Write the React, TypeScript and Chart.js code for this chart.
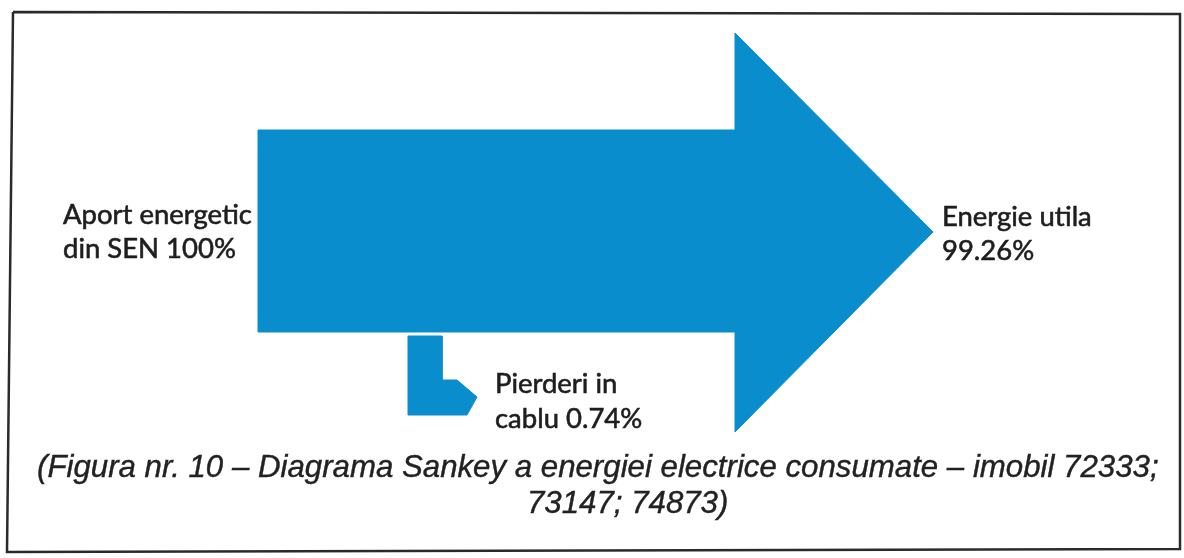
import React, { useEffect, useRef } from "react";
import { Chart, registerables } from "chart.js";

Chart.register(...registerables);

// Flow values (percent)
const flowNames = ["Aport energetic din SEN", "Energie utila", "Pierderi in cablu"];
const flowValues = [100, 99.26, 0.74];

// Outlines of the Sankey shapes, in drawing units (x: 0..1184, y: 0..558 from top)
const mainArrowX = [258, 735, 735, 933, 735, 735, 258, 258];
const mainArrowY = [130, 130, 33, 232, 432, 332, 332, 130];
const lossArrowX = [408, 442, 442, 457, 477, 467, 408, 408];
const lossArrowY = [336, 336, 380, 380, 397, 415, 415, 336];
const frameX = [13, 1180, 1180, 7, 13];
const frameY = [12, 14, 549, 552, 12];

// Labels
const inflowLines = ["Aport energetic", `din SEN ${flowValues[0]}%`];
const usefulLines = ["Energie utila", `${flowValues[1]}%`];
const lossLines = ["Pierderi in", `cablu ${flowValues[2]}%`];
const captionLines = [
  "(Figura nr. 10 \u2013 Diagrama Sankey a energiei electrice consumate \u2013 imobil 72333;",
  "73147; 74873)",
];

const BLUE = "#0a8dcc";

function pts(xs: number[], ys: number[]) {
  return xs.map((x, i) => ({ x, y: ys[i] }));
}

const labelPlugin = {
  id: "sankeyLabels",
  afterDatasetsDraw(chart: any) {
    const { ctx } = chart;
    const sx = chart.scales.x;
    const sy = chart.scales.y;
    const X = (v: number) => sx.getPixelForValue(v);
    const Y = (v: number) => sy.getPixelForValue(v);
    ctx.save();
    ctx.textBaseline = "alphabetic";
    ctx.textAlign = "left";
    const fit = (text: string, family: string, style: string, target: number) => {
      ctx.font = `${style} 20px ${family}`;
      const w = ctx.measureText(text).width;
      return (20 * target) / w;
    };
    const put = (t: string, x: number, y: number, stroke: number) => {
      ctx.fillText(t, X(x), Y(y));
      if (stroke > 0) ctx.strokeText(t, X(x), Y(y));
    };
    const labelFamily = "Lato, 'Open Sans', sans-serif";
    const lsize = fit(inflowLines[0], labelFamily, "normal", 189);
    ctx.fillStyle = "#1e1e1e";
    ctx.strokeStyle = "#1e1e1e";
    ctx.lineWidth = 0.6;
    ctx.font = `normal ${lsize}px ${labelFamily}`;
    put(inflowLines[0], 63, 224, 1);
    put(inflowLines[1], 63, 258, 1);
    put(usefulLines[0], 942, 226, 1);
    put(usefulLines[1], 942, 260, 1);
    put(lossLines[0], 495, 393, 1);
    put(lossLines[1], 495, 428, 1);

    const capFamily = "'Liberation Sans', Arial, sans-serif";
    const csize = fit(captionLines[0], capFamily, "italic", 1122);
    ctx.fillStyle = "#222";
    ctx.strokeStyle = "#222";
    ctx.lineWidth = 0.4;
    ctx.font = `italic ${csize}px ${capFamily}`;
    put(captionLines[0], 37, 477, 1);
    put(captionLines[1], 527, 513, 1);
    ctx.restore();
  },
};

export default function App() {
  const ref = useRef<HTMLCanvasElement | null>(null);
  useEffect(() => {
    document.body.style.margin = "0";
    document.body.style.background = "#ffffff";
    if (!ref.current) return;
    const chart = new Chart(ref.current, {
      type: "scatter",
      data: {
        datasets: [
          {
            label: flowNames[0] + " \u2192 " + flowNames[1],
            data: pts(mainArrowX, mainArrowY),
            showLine: true,
            fill: "shape",
            backgroundColor: BLUE,
            borderColor: BLUE,
            borderWidth: 1,
            pointRadius: 0,
            tension: 0,
          } as any,
          {
            label: flowNames[2],
            data: pts(lossArrowX, lossArrowY),
            showLine: true,
            fill: "shape",
            backgroundColor: BLUE,
            borderColor: BLUE,
            borderWidth: 1,
            pointRadius: 0,
            tension: 0,
          } as any,
          {
            label: "frame",
            data: pts(frameX, frameY),
            showLine: true,
            fill: false,
            borderColor: "#2a2a2a",
            borderWidth: 2.5,
            pointRadius: 0,
            tension: 0,
          } as any,
        ],
      },
      options: {
        animation: false,
        responsive: false,
        events: [],
        layout: { padding: 0 },
        plugins: { legend: { display: false }, tooltip: { enabled: false } },
        scales: {
          x: { type: "linear", min: 0, max: 1184, display: false },
          y: { type: "linear", min: 0, max: 558, reverse: true, display: false },
        },
      },
      plugins: [labelPlugin],
    });
    return () => chart.destroy();
  }, []);
  return (
    <div style={{ width: 1184, height: 558, background: "#fff" }}>
      <canvas ref={ref} width={1184} height={558} style={{ display: "block" }} />
    </div>
  );
}
